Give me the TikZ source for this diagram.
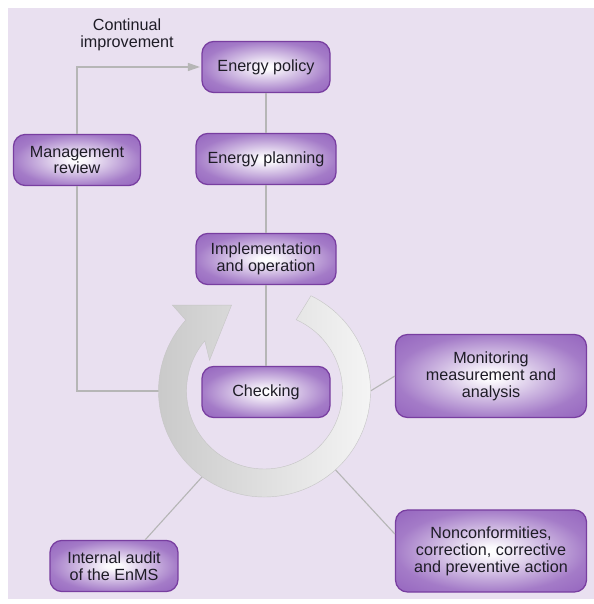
\documentclass[tikz,border=0pt]{standalone}
\usepackage{fontspec}
\setmainfont{Liberation Sans}
\usetikzlibrary{arrows.meta,calc}

\definecolor{bgpurple}{RGB}{233,224,240}
\definecolor{boxedge}{RGB}{120,62,160}
\definecolor{boxfill}{RGB}{148,100,190}
\definecolor{linkgray}{RGB}{182,182,182}
\definecolor{textdark}{RGB}{30,28,38}
\pgfdeclareradialshading{boxshade}{\pgfpoint{0bp}{0bp}}{%
  color(0bp)=(white); color(3bp)=(white!96!boxfill);
  color(25bp)=(boxfill!85!white); color(36bp)=(boxfill); color(50bp)=(boxfill)}

\begin{document}
\begin{tikzpicture}[
    stage/.style={draw=boxedge, line width=0.9pt, rounded corners=0.3cm,
      shading=boxshade, align=center, inner sep=0pt, text=textdark,
      minimum height=1.28cm, font=\fontsize{11.5}{12}\selectfont},
    link/.style={draw=linkgray, line width=0.8pt}
  ]
    \useasboundingbox (0,0) rectangle (14.85,15.1);
    \fill[bgpurple] (0.2,0.125) rectangle (14.85,14.9);

    % main column
    \node[stage, minimum width=3.2cm] (policy) at (6.65,13.425) {Energy policy};
    \node[stage, minimum width=3.5cm] (planning) at (6.65,11.125) {Energy planning};
    \node[stage, minimum width=3.5cm] (impl) at (6.65,8.625) {Implementation\\and operation};
    \node[stage, minimum width=3.2cm] (check) at (6.65,5.3) {Checking};

    \node[stage, minimum width=3.175cm] (review) at (1.925,11.1) {Management\\review};
    \node[text=textdark, align=center, font=\fontsize{11.5}{12}\selectfont] (improve) at (3.175,14.225) {Continual\\improvement};

    % around the checking loop
    \node[stage, minimum width=4.775cm, minimum height=2.075cm] (monitor) at (12.275,5.7) {Monitoring\\measurement and\\analysis};
    \node[stage, minimum width=4.775cm, minimum height=2.05cm] (nonconf) at (12.275,1.325) {Nonconformities,\\correction, corrective\\and preventive action};
    \node[stage, minimum width=3.2cm] (audit) at (2.85,0.95) {Internal audit\\of the EnMS};

    \coordinate (ring) at (6.6125,5.325);
    \coordinate (ringW) at ($(ring)+(180:2.65)$);
    \coordinate (ringE) at ($(ring)+(0:2.65)$);
    \coordinate (ringSE) at ($(ring)+(-48:2.65)$);
    \coordinate (ringSW) at ($(ring)+(-126:2.65)$);

    \draw[link, -{Triangle[length=3mm,width=2mm]}, shorten >=1pt] (review.north) |- (policy.west);
    \draw[link] (review.south) |- (ringW);
    \draw[link] (policy) -- (planning);
    \draw[link] (planning) -- (impl);
    \draw[link] (impl) -- (check);
    \draw[link] (ringE) -- (monitor.west);
    \draw[link] (ringSE) -- (nonconf.170);
    \draw[link] (ringSW) -- (audit.40);

    % the ring arrow
    \shade[left color=gray!42!white, right color=gray!6!white, draw=gray!45, line width=0.3pt]
      ($(ring)+(64:2.65)$) arc[start angle=64, end angle=-222, radius=2.65]
      -- ($(ring)+(137:3.15)$) -- ($(ring)+(111:2.3)$) -- ($(ring)+(150.7:1.575)$)
      -- ($(ring)+(140:1.95)$) arc[start angle=-220, end angle=66, radius=1.95] -- cycle;
\end{tikzpicture}
\end{document}
